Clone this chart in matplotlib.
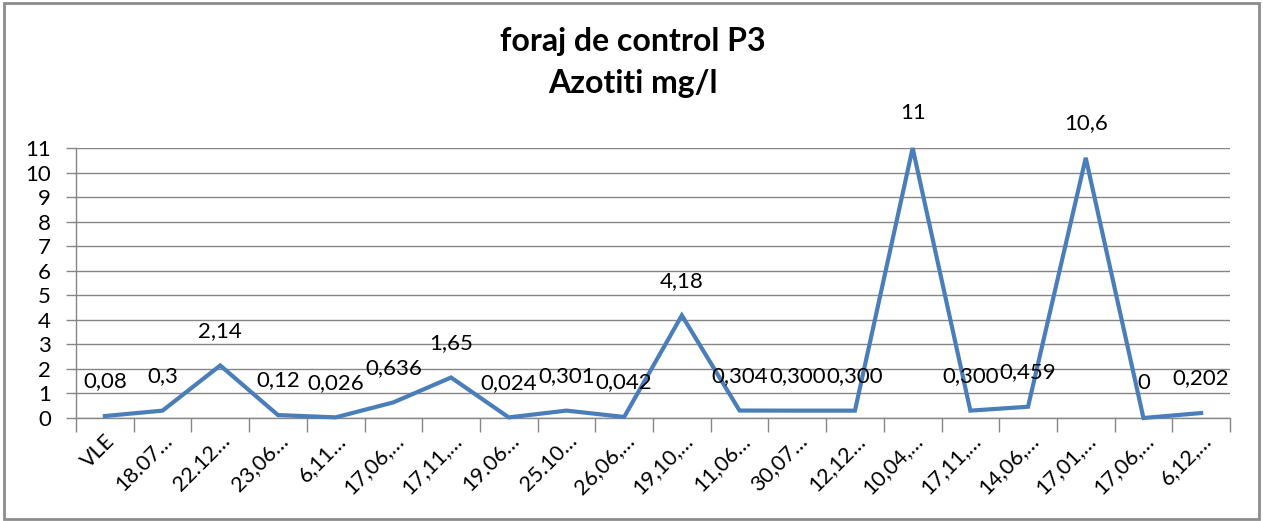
import numpy as np
import matplotlib
matplotlib.use('Agg')
import matplotlib.pyplot as plt
from matplotlib.patches import Rectangle

plt.rcParams['font.family'] = ['Lato', 'DejaVu Sans']

#%% Date
categorii = ['VLE', '18.07…', '22.12…', '23,06…', '6,11…', '17,06,…', '17,11,…',
             '19.06…', '25.10…', '26,06,…', '19,10,…', '11,06…', '30,07…', '12,12…',
             '10,04,…', '17,11,…', '14,06,…', '17,01,…', '17,06,…', '6,12,…']
azotiti = [0.08, 0.3, 2.14, 0.12, 0.026, 0.636, 1.65, 0.024, 0.301, 0.042,
           4.18, 0.304, 0.300, 0.300, 11, 0.300, 0.459, 10.6, 0, 0.202]
etichete = ['0,08', '0,3', '2,14', '0,12', '0,026', '0,636', '1,65', '0,024', '0,301', '0,042',
            '4,18', '0,304', '0,300', '0,300', '11', '0,300', '0,459', '10,6', '0', '0,202']

fig = plt.figure(figsize=(12.63, 5.21), dpi=100)
ax = fig.add_axes([76/1263, 103/521, 1154/1263, 270/521])

x = np.arange(len(azotiti))
ax.plot(x, azotiti, color='#4A7EBB', lw=3.0, solid_joinstyle='miter', clip_on=False, zorder=3)

for xi, yi, t in zip(x, azotiti, etichete):
    ax.annotate(t, (xi, yi), xytext=(0, 25), textcoords='offset points',
                ha='center', va='center', fontsize=16, color='black', zorder=4)

ax.set_xlim(-0.5, len(azotiti) - 0.5)
ax.set_ylim(0, 11)
ax.set_yticks(range(0, 12))
ax.tick_params(axis='y', length=7, width=1, color='#868686', labelsize=16, pad=11)
ax.grid(axis='y', color='#868686', lw=1)
ax.set_axisbelow(True)

ax.set_xticks(np.arange(-0.5, len(azotiti)), minor=False)
ax.set_xticklabels([])
ax.set_xticks(x, minor=True)
ax.set_xticklabels(categorii, minor=True, rotation=45, ha='right', va='top',
                   rotation_mode='anchor', fontsize=15.5)
ax.tick_params(axis='x', which='major', length=10, width=1, color='#868686')
ax.tick_params(axis='x', which='minor', length=0, pad=9)

for s in ['top', 'right']:
    ax.spines[s].set_visible(False)
for s in ['left', 'bottom']:
    ax.spines[s].set_color('#868686')
    ax.spines[s].set_linewidth(1)

fig.text(633/1263, 1 - 42/521, 'foraj de control P3', ha='center', va='center',
         fontsize=23, fontweight='bold')
fig.text(633/1263, 1 - 84/521, 'Azotiti mg/l', ha='center', va='center',
         fontsize=23, fontweight='bold')

fig.patches.append(Rectangle((4/1263, 2/521), 1255/1263, 516/521, transform=fig.transFigure,
                             fill=False, edgecolor='#8c8c8c', lw=2))

fig.savefig('out.png', dpi=100)
